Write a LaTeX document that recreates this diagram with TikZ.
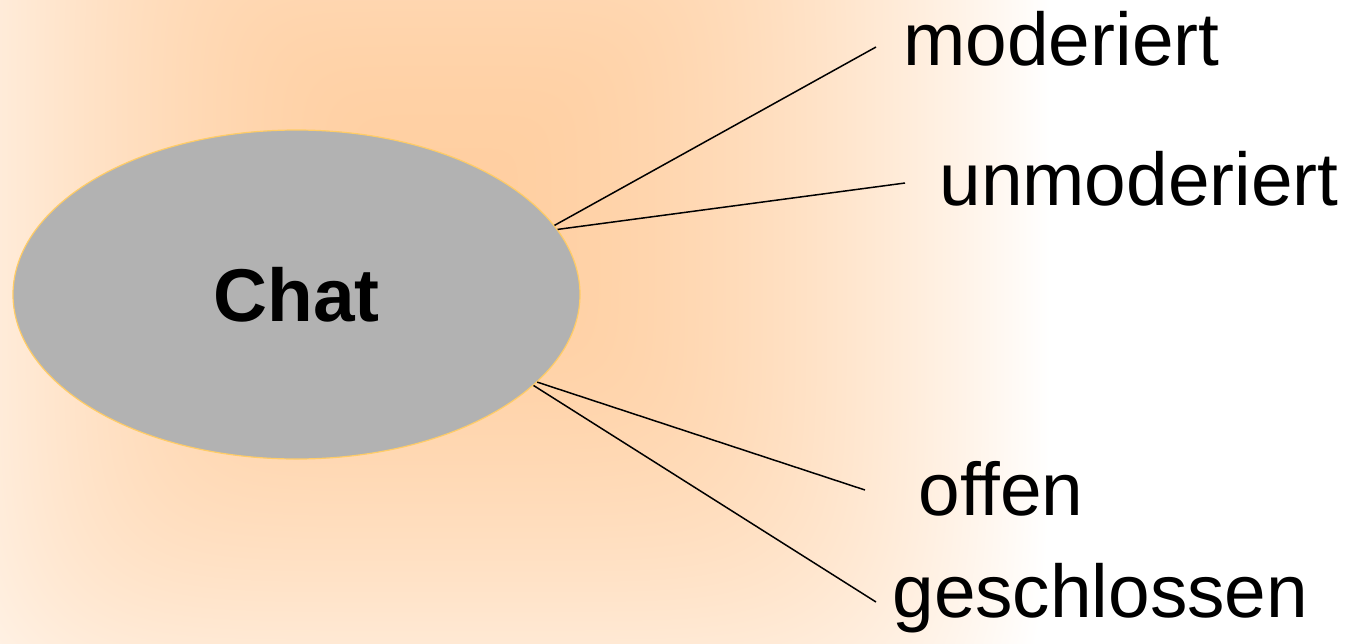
\documentclass[tikz,border=0pt]{standalone}
\usepackage{fontspec}
\setmainfont{Liberation Sans}
\usetikzlibrary{shapes.geometric}
\definecolor{chatgray}{HTML}{B2B2B2}
\definecolor{chatrim}{HTML}{FFCC66}
% soft rectangular glow behind the ellipse
\pgfdeclarefunctionalshading{glow}{\pgfpoint{-50bp}{-50bp}}{\pgfpoint{50bp}{50bp}}{}{
  abs 25 div dup mul dup dup mul mul
  exch abs 25 div dup mul dup dup mul mul
  add 0.1667 exp
  dup 1 gt {pop 1} if
  1.8 exp
  dup 0.19 mul 0.81 add
  exch 0.37 mul 0.63 add
  1 3 1 roll
}
\tikzset{
  kind/.style={anchor=base west,inner sep=0pt,font=\fontsize{37.4}{45}\selectfont},
  conn/.style={draw=black,line width=0.75pt}
}
\begin{document}
\begin{tikzpicture}
[x=0.5pt,y=-0.5pt]
\useasboundingbox (0,0) rectangle (1348,643);
% background glow
\fill[white] (0,0) rectangle (1348,643);
\begin{scope}
\clip (0,0) rectangle (1348,643);
\shade[shading=glow] (-150,-385) rectangle (1050,815);
\end{scope}
% centre
\node[ellipse,draw=chatrim,line width=0.6pt,fill=chatgray,inner sep=0pt,
  minimum width=283.5pt,minimum height=164.5pt,
  font=\fontsize{37.4}{45}\selectfont\bfseries] (chat) at (296.5,294.5) {Chat};
% kinds
\node[kind] (mod) at (903,65) {moderiert};
\node[kind] (unmod) at (939,205) {unmoderiert};
\node[kind] (off) at (918,515) {offen};
\node[kind] (closed) at (892,617) {geschlossen};
% line ends
\coordinate (modend) at (876,47);
\coordinate (unmodend) at (905,183);
\coordinate (offend) at (865,490);
\coordinate (closedend) at (876,602);
\draw[conn] (chat.15.4) -- (modend);
\draw[conn] (chat.14.2) -- (unmodend);
\draw[conn] (chat.-20.1) -- (offend);
\draw[conn] (chat.-21.7) -- (closedend);
\end{tikzpicture}
\end{document}
